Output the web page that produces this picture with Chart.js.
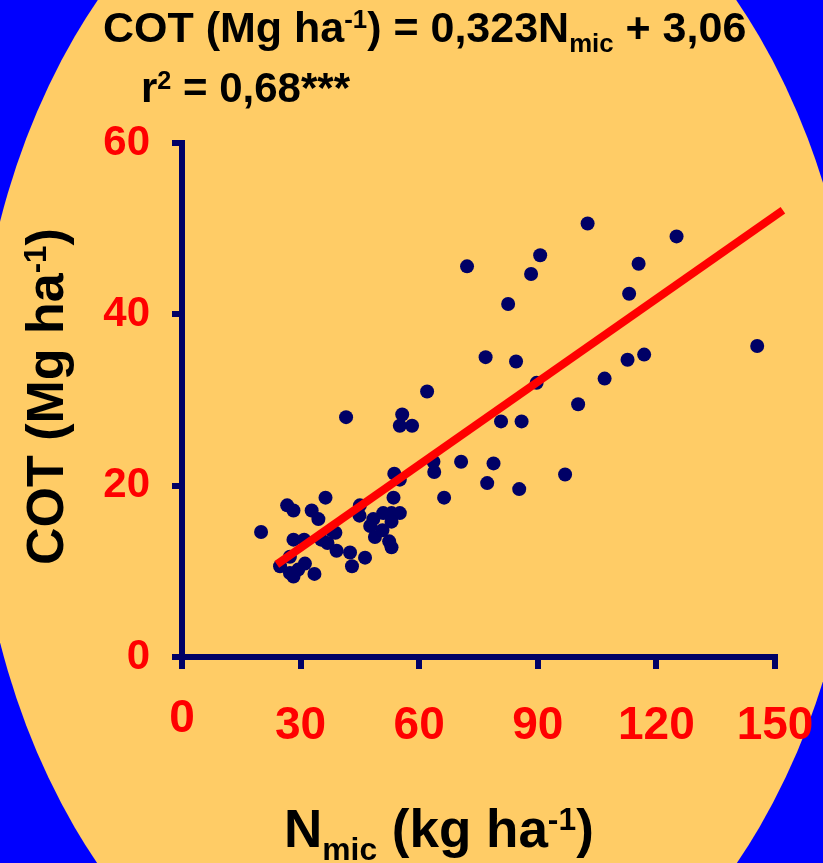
<!DOCTYPE html>
<html>
<head>
<meta charset="utf-8">
<title>COT x Nmic</title>
<script src="https://cdn.jsdelivr.net/npm/chart.js@4.4.1/dist/chart.umd.min.js"></script>
<style>
  body { margin: 0; background: #0000ff; }
  canvas { display: block; }
</style>
</head>
<body>
<canvas id="cotChart" width="823" height="863"></canvas>
<script>
// microbial N (kg/ha) and total organic carbon (Mg/ha), one entry per sample
const nmic = [
  102.6, 125.1, 72.1, 90.6, 88.3, 115.5, 113.1, 82.5, 145.5, 76.8,
  84.5, 116.9, 112.7, 106.9, 89.7, 62.0, 55.7, 55.1, 58.2, 41.5,
  100.2, 80.7, 85.9, 70.6, 78.8, 77.2, 85.3, 96.9, 66.3, 63.8,
  63.6, 20.0, 26.6, 28.2, 32.8, 34.5, 36.3, 28.2, 30.9, 35.2,
  36.8, 38.8, 39.1, 42.5, 43.0, 46.3, 27.3, 31.1, 28.2, 27.3,
  33.5, 29.4, 45.0, 44.9, 53.7, 53.5, 48.4, 47.6, 48.8, 50.9,
  53.0, 55.1, 53.0, 50.7, 52.4, 53.0, 55.1, 37.9, 24.8
];
const cot = [
  50.6, 49.1, 45.6, 46.9, 44.7, 45.9, 42.4, 41.2, 36.3, 35.0,
  34.5, 35.3, 34.7, 32.5, 32.0, 31.0, 28.3, 27.0, 27.0, 28.0,
  29.5, 27.5, 27.5, 22.8, 22.6, 20.3, 19.6, 21.3, 18.6, 21.6,
  22.8, 14.6, 17.7, 17.1, 17.1, 16.1, 18.6, 13.7, 13.7, 13.7,
  13.3, 14.5, 12.4, 12.2, 10.6, 11.6, 11.7, 10.9, 9.4, 9.8,
  9.7, 10.2, 17.7, 16.5, 21.4, 18.6, 16.1, 15.3, 14.0, 16.8,
  16.8, 16.8, 15.8, 14.8, 13.5, 12.8, 20.7, 14.8, 10.6
];

const xTicks = [0, 30, 60, 90, 120, 150];
const yTicks = [0, 20, 40, 60];

// linear fit: COT = 0,323 Nmic + 3,06
const slope = 0.323;
const intercept = 3.06;
const fitFrom = 24;
const fitTo = 152;

const NAVY = '#000066';
const RED = '#ff0000';
const FONT = '"Liberation Sans", Arial, sans-serif';

// blue page with the orange oval behind everything
const backdrop = {
  id: 'backdrop',
  beforeDraw(chart) {
    const c = chart.ctx;
    c.save();
    c.fillStyle = '#0000ff';
    c.fillRect(0, 0, chart.width, chart.height);
    c.fillStyle = '#ffcc66';
    c.beginPath();
    c.ellipse(417, 432, 443, 623, 0, 0, Math.PI * 2);
    c.fill();
    c.restore();
  }
};

// text runs with super/subscripts: [text, 'sup'|'sub'|undefined]
function richText(c, x, y, parts, size) {
  let cx = x;
  parts.forEach(([txt, kind]) => {
    let s = size, dy = 0;
    if (kind === 'sup') { s = size * 0.6; dy = -size * 0.32; }
    if (kind === 'sub') { s = size * 0.6; dy = size * 0.24; }
    c.font = 'bold ' + s + 'px ' + FONT;
    c.fillText(txt, cx, y + dy);
    cx += c.measureText(txt).width;
  });
}

const labels = {
  id: 'labels',
  afterDraw(chart) {
    const c = chart.ctx;
    c.save();
    c.fillStyle = '#000000';
    c.textAlign = 'left';
    c.textBaseline = 'alphabetic';

    richText(c, 103, 42, [
      ['COT (Mg ha'], ['-1', 'sup'], [') = ' + String(slope).replace('.', ',') + 'N'],
      ['mic', 'sub'], [' + ' + String(intercept).replace('.', ',')]
    ], 43);
    richText(c, 141, 102, [['r'], ['2', 'sup'], [' = 0,68***']], 42);

    // x axis title
    richText(c, 284, 847, [['N'], ['mic', 'sub'], [' (kg ha'], ['-1', 'sup'], [')']], 53);

    // y axis title, rotated
    c.translate(63, 565);
    c.rotate(-Math.PI / 2);
    richText(c, 0, 0, [['COT (Mg ha'], ['-1', 'sup'], [')']], 52);
    c.restore();
  }
};

const axisLine = { color: NAVY, width: 6 };
const axisGrid = { drawOnChartArea: false, color: NAVY, lineWidth: 6 };

new Chart(document.getElementById('cotChart'), {
  type: 'scatter',
  data: {
    datasets: [
      {
        type: 'line',
        data: [
          { x: fitFrom, y: slope * fitFrom + intercept },
          { x: fitTo, y: slope * fitTo + intercept }
        ],
        borderColor: RED,
        borderWidth: 8,
        pointRadius: 0,
        clip: false
      },
      {
        data: nmic.map((v, i) => ({ x: v, y: cot[i] })),
        backgroundColor: NAVY,
        borderWidth: 0,
        pointRadius: 7
      }
    ]
  },
  options: {
    responsive: false,
    animation: false,
    layout: { padding: { top: 143, right: 48, bottom: 0, left: 0 } },
    plugins: { legend: { display: false }, tooltip: { enabled: false } },
    scales: {
      x: {
        type: 'linear',
        min: 0,
        max: 150,
        afterBuildTicks: axis => { axis.ticks = xTicks.map(v => ({ value: v })); },
        afterFit: scale => {
          scale.height = 206;
          scale.paddingLeft = 0;
          scale.paddingRight = 0;
        },
        border: axisLine,
        grid: { ...axisGrid, tickLength: 12 },
        ticks: {
          color: RED,
          padding: 30,
          maxRotation: 0,
          font: ctx => ({
            family: FONT,
            size: 46,
            weight: 'bold',
            lineHeight: ctx.tick && ctx.tick.value === 0 ? 0.9 : 1.2
          })
        }
      },
      y: {
        type: 'linear',
        min: 0,
        max: 60,
        afterBuildTicks: axis => { axis.ticks = yTicks.map(v => ({ value: v })); },
        afterFit: scale => {
          scale.width = 182;
          scale.paddingTop = 0;
          scale.paddingBottom = 0;
        },
        border: axisLine,
        grid: { ...axisGrid, tickLength: 10 },
        ticks: {
          color: RED,
          padding: 22,
          font: { family: FONT, size: 42, weight: 'bold' }
        }
      }
    }
  },
  plugins: [backdrop, labels]
});
</script>
</body>
</html>
